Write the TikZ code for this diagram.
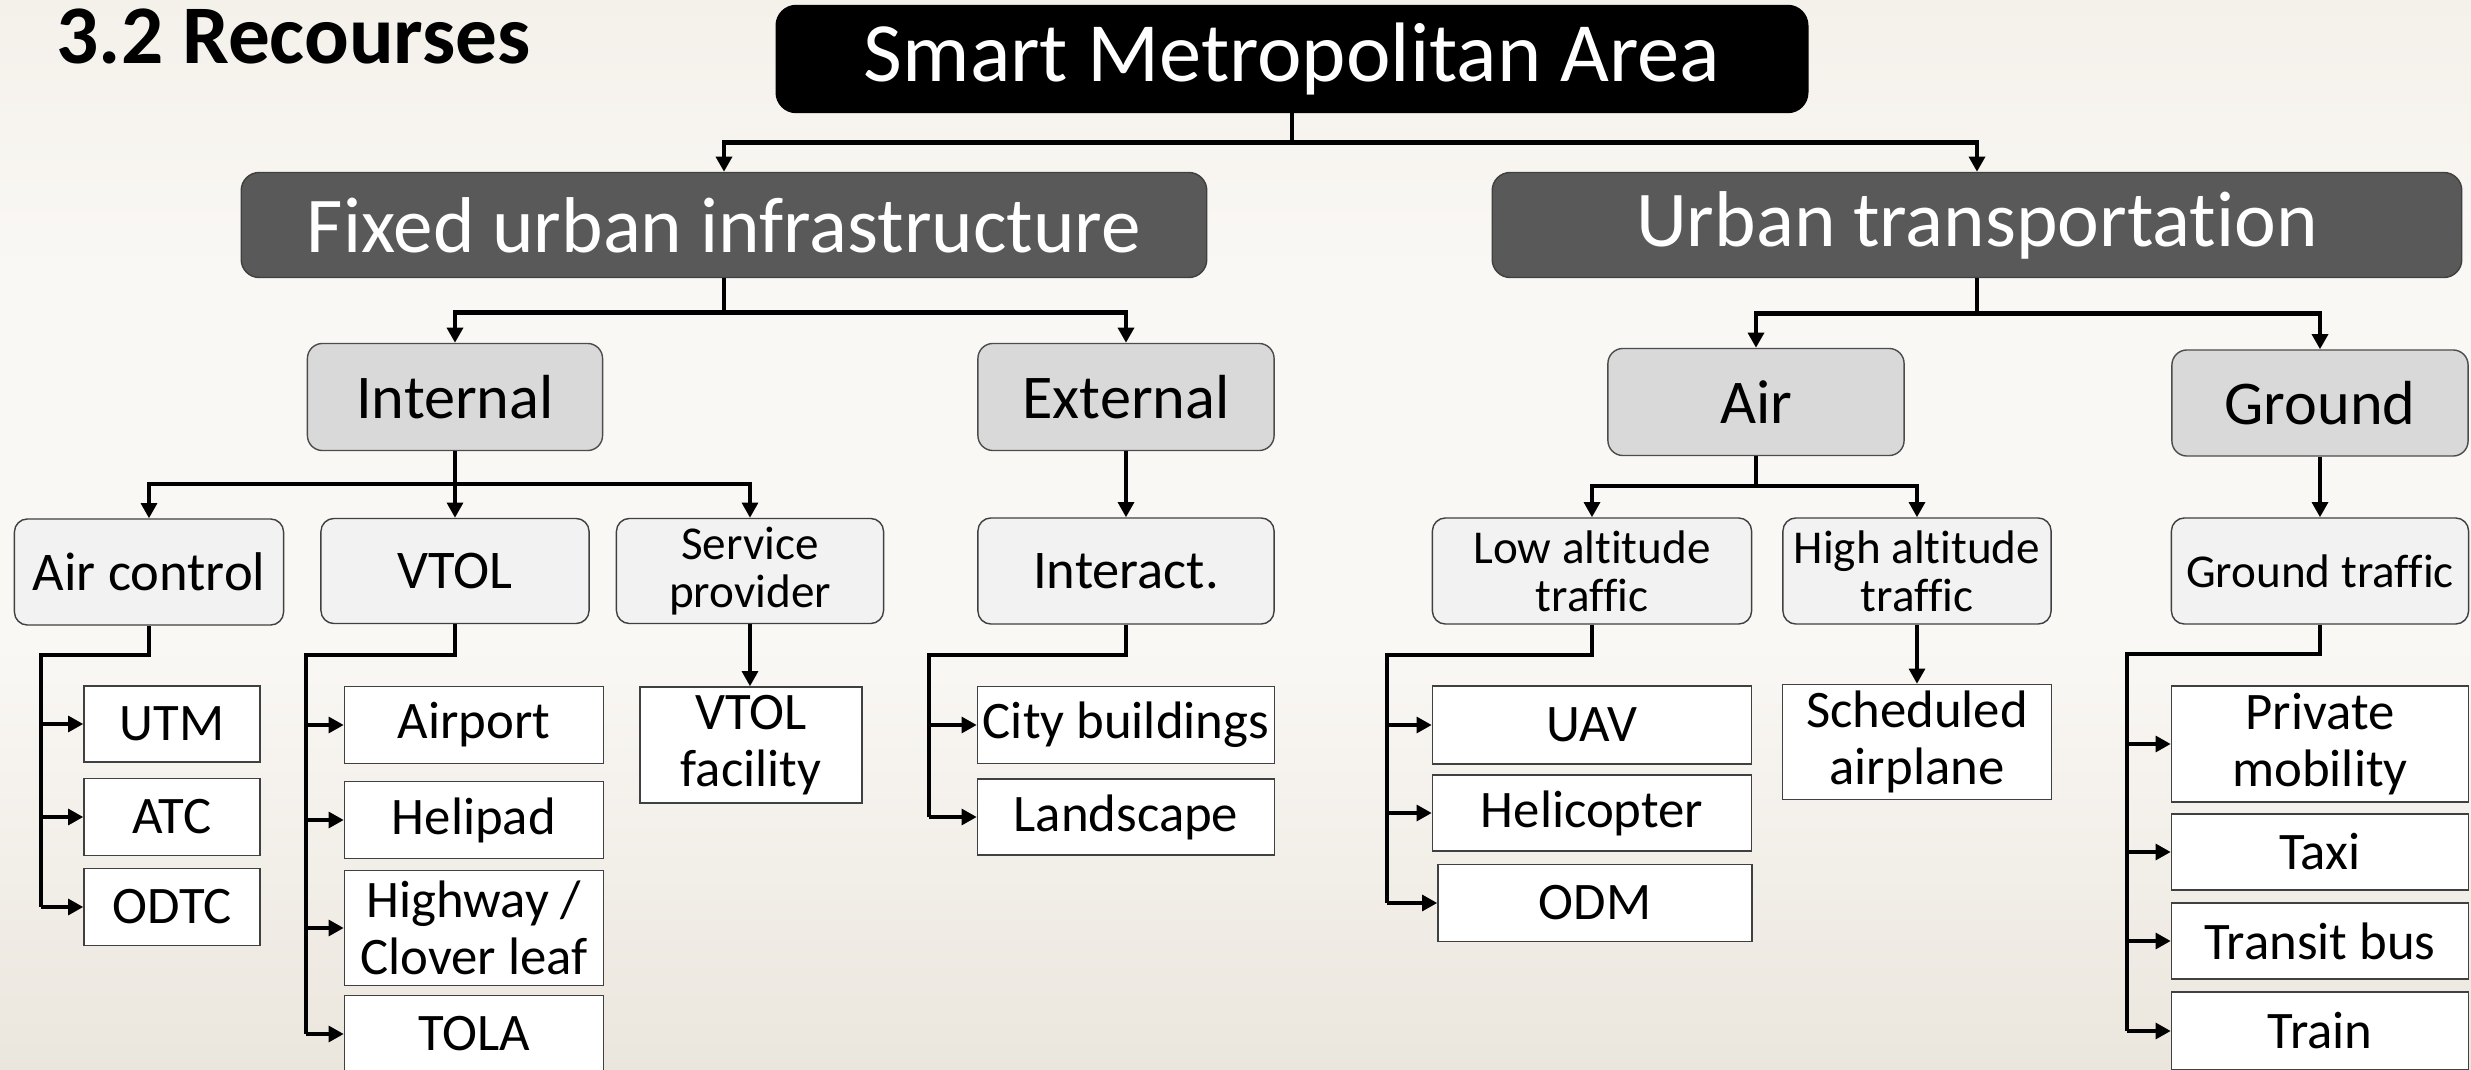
\documentclass[tikz,border=0pt]{standalone}
\usepackage{fontspec}
\setmainfont{Carlito}[RawFeature={-liga;-clig;-dlig}]
\usetikzlibrary{arrows.meta}

\definecolor{bgtop}{HTML}{E9E3D7}
\definecolor{bgmid}{HTML}{FAF8F5}
\definecolor{bgbot}{HTML}{D8CFBF}
\pgfdeclareverticalshading{slidebg}{100bp}{color(0bp)=(bgbot); color(45bp)=(bgmid); color(62bp)=(bgmid); color(100bp)=(bgtop)}

\tikzset{
	rootbox/.style={draw=black, fill=black, text=white, rounded corners=0.2cm, inner sep=0pt, font=\fontsize{24}{28}\selectfont},
	areabox/.style={draw=black!75, fill=black!65, text=white, rounded corners=0.18cm, inner sep=0pt, font=\fontsize{22.5}{26}\selectfont},
	kindbox/.style={draw=black!70, fill=black!15, rounded corners=0.15cm, inner sep=0pt, font=\fontsize{17.7}{21}\selectfont},
	groupbox/.style={draw=black!75, fill=black!5, rounded corners=0.13cm, inner sep=0pt, align=center, font=\fontsize{15.5}{18}\selectfont},
	smallgroup/.style={groupbox, font=\fontsize{13.4}{13.6}\selectfont},
	itembox/.style={draw=black!75, fill=white, inner sep=0pt, align=center, font=\fontsize{15}{16}\selectfont},
	bigarrow/.style={line width=1.3pt, -{Triangle[length=4.3pt, width=4.5pt]}},
	linkline/.style={line width=1pt},
	linkarrow/.style={line width=1pt, -{Triangle[length=4.3pt, width=4.5pt]}}
}

\begin{document}
\begin{tikzpicture}[x=0.01cm, y=-0.01cm]
			%%%%% START %%%%%
			
			\useasboundingbox (0,0) rectangle (2471,1070);
			\shade[shading=slidebg] (0,0) rectangle (2471,1070);
			
			\node[anchor=base west, inner sep=0pt, font=\bfseries\fontsize{23.7}{28}\selectfont] (title) at (56,64) {3.2 Recourses};
			
			\node[rootbox, minimum width=10.31cm, minimum height=1.07cm] (sma) at (1292,59) {Smart Metropolitan Area};
			
			\node[areabox, minimum width=9.65cm, minimum height=1.05cm] (fixed) at (724,225) {Fixed urban infrastructure};
			\node[areabox, minimum width=9.69cm, minimum height=1.05cm] (urban) at (1977,225) {Urban transportation};
			
			\node[kindbox, minimum width=2.95cm, minimum height=1.07cm] (internal) at (455,397) {Internal};
			\node[kindbox, minimum width=2.96cm, minimum height=1.07cm] (external) at (1126,397) {External};
			\node[kindbox, minimum width=2.96cm, minimum height=1.07cm] (air) at (1756,402) {Air};
			\node[kindbox, minimum width=2.96cm, minimum height=1.06cm] (ground) at (2320,403) {Ground};
			
			\node[groupbox, minimum width=2.69cm, minimum height=1.06cm] (airc) at (149,572) {Air control};
			\node[groupbox, minimum width=2.68cm, minimum height=1.05cm] (vtol) at (455,571) {VTOL};
			\node[smallgroup, minimum width=2.67cm, minimum height=1.05cm] (serv) at (750,571) {Service\\provider};
			\node[groupbox, minimum width=2.96cm, minimum height=1.06cm] (interact) at (1126,571) {Interact.};
			\node[smallgroup, minimum width=3.19cm, minimum height=1.06cm] (lowalt) at (1592,571) {Low altitude\\traffic};
			\node[smallgroup, minimum width=2.68cm, minimum height=1.06cm] (highalt) at (1917,571) {High altitude\\traffic};
			\node[smallgroup, minimum width=2.97cm, minimum height=1.06cm] (groundtr) at (2320,571) {Ground traffic};
			
			\node[itembox, minimum width=1.76cm, minimum height=0.76cm] (utm) at (172,724) {UTM};
			\node[itembox, minimum width=1.76cm, minimum height=0.77cm] (atc) at (172,817) {ATC};
			\node[itembox, minimum width=1.76cm, minimum height=0.77cm] (odtc) at (172,907) {ODTC};
			
			\node[itembox, minimum width=2.59cm, minimum height=0.77cm] (airport) at (474,725) {Airport};
			\node[itembox, minimum width=2.59cm, minimum height=0.77cm] (helipad) at (474,820) {Helipad};
			\node[itembox, minimum width=2.59cm, minimum height=1.15cm] (highway) at (474,928) {Highway /\\Clover leaf};
			\node[itembox, minimum width=2.59cm, minimum height=0.77cm] (tola) at (474,1034) {TOLA};
			
			\node[itembox, minimum width=2.22cm, minimum height=1.16cm] (vtolfac) at (751,745) {VTOL\\facility};
			
			\node[itembox, minimum width=2.97cm, minimum height=0.77cm] (city) at (1126,725) {City buildings};
			\node[itembox, minimum width=2.97cm, minimum height=0.76cm] (landscape) at (1126,817) {Landscape};
			
			\node[itembox, minimum width=3.19cm, minimum height=0.78cm] (uav) at (1592,725) {UAV};
			\node[itembox, minimum width=3.19cm, minimum height=0.76cm] (heli) at (1592,813) {Helicopter};
			\node[itembox, minimum width=3.14cm, minimum height=0.77cm] (odm) at (1595,903) {ODM};
			
			\node[itembox, minimum width=2.69cm, minimum height=1.15cm] (sched) at (1917,742) {Scheduled\\airplane};
			
			\node[itembox, minimum width=2.97cm, minimum height=1.16cm] (private) at (2320,744) {Private\\mobility};
			\node[itembox, minimum width=2.97cm, minimum height=0.76cm] (taxi) at (2320,852) {Taxi};
			\node[itembox, minimum width=2.97cm, minimum height=0.76cm] (transit) at (2320,941) {Transit bus};
			\node[itembox, minimum width=2.97cm, minimum height=0.78cm] (train) at (2320,1031) {Train};
			
			% top levels
			\draw[bigarrow] (sma.south) -- ++(0,29) -| (fixed.north);
			\draw[bigarrow] (sma.south) -- ++(0,29) -| (urban.north);
			\draw[bigarrow] (fixed.south) -- ++(0,34) -| (internal.north);
			\draw[bigarrow] (fixed.south) -- ++(0,34) -| (external.north);
			\draw[bigarrow] (urban.south) -- ++(0,35) -| (air.north);
			\draw[bigarrow] (urban.south) -- ++(0,35) -| (ground.north);
			
			% groups
			\draw[linkarrow] (internal.south) -- ++(0,33) -| (airc.north);
			\draw[linkarrow] (internal.south) -- (vtol.north);
			\draw[linkarrow] (internal.south) -- ++(0,33) -| (serv.north);
			\draw[linkarrow] (external.south) -- (interact.north);
			\draw[linkarrow] (air.south) -- ++(0,30) -| (lowalt.north);
			\draw[linkarrow] (air.south) -- ++(0,30) -| (highalt.north);
			\draw[linkarrow] (ground.south) -- (groundtr.north);
			
			% items
			\coordinate (acbus) at (41,655);
			\draw[linkline] (airc.south) |- (acbus) -- (acbus |- odtc.west);
			\draw[linkarrow] (acbus |- utm.west) -- (utm.west);
			\draw[linkarrow] (acbus |- atc.west) -- (atc.west);
			\draw[linkarrow] (acbus |- odtc.west) -- (odtc.west);
			
			\coordinate (vtbus) at (306,655);
			\draw[linkline] (vtol.south) |- (vtbus) -- (vtbus |- tola.west);
			\draw[linkarrow] (vtbus |- airport.west) -- (airport.west);
			\draw[linkarrow] (vtbus |- helipad.west) -- (helipad.west);
			\draw[linkarrow] (vtbus |- highway.west) -- (highway.west);
			\draw[linkarrow] (vtbus |- tola.west) -- (tola.west);
			
			\draw[linkarrow] (serv.south) -- (serv.south |- vtolfac.north);
			
			\coordinate (itbus) at (929,655);
			\draw[linkline] (interact.south) |- (itbus) -- (itbus |- landscape.west);
			\draw[linkarrow] (itbus |- city.west) -- (city.west);
			\draw[linkarrow] (itbus |- landscape.west) -- (landscape.west);
			
			\coordinate (labus) at (1387,655);
			\draw[linkline] (lowalt.south) |- (labus) -- (labus |- odm.west);
			\draw[linkarrow] (labus |- uav.west) -- (uav.west);
			\draw[linkarrow] (labus |- heli.west) -- (heli.west);
			\draw[linkarrow] (labus |- odm.west) -- (odm.west);
			
			\draw[linkarrow] (highalt.south) -- (highalt.south |- sched.north);
			
			\coordinate (gtbus) at (2127,654);
			\draw[linkline] (groundtr.south) |- (gtbus) -- (gtbus |- train.west);
			\draw[linkarrow] (gtbus |- private.west) -- (private.west);
			\draw[linkarrow] (gtbus |- taxi.west) -- (taxi.west);
			\draw[linkarrow] (gtbus |- transit.west) -- (transit.west);
			\draw[linkarrow] (gtbus |- train.west) -- (train.west);
			
			%%%%% END %%%%%
\end{tikzpicture}
\end{document}
